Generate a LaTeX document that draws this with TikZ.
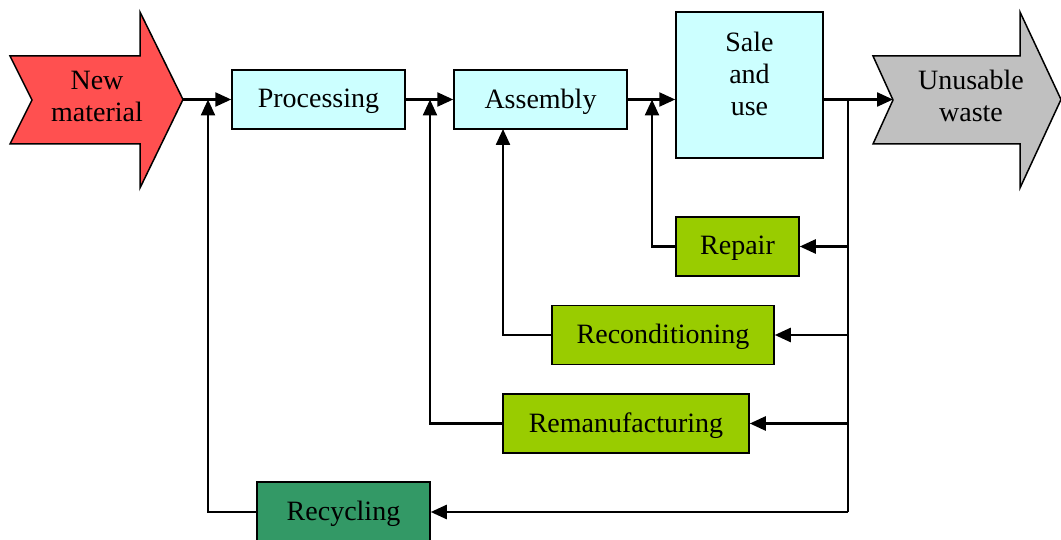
\documentclass[tikz,border=0pt]{standalone}
\usepackage{fontspec}
\setmainfont{Liberation Serif}
\usetikzlibrary{arrows.meta}
\usetikzlibrary{positioning}
\definecolor{newred}{RGB}{255,80,80}
\definecolor{stagecyan}{RGB}{204,255,255}
\definecolor{loopgreen}{RGB}{153,204,0}
\definecolor{recgreen}{RGB}{51,153,102}
\definecolor{wastegray}{RGB}{192,192,192}

\begin{document}
\begin{tikzpicture}[x=0.5pt, y=-0.5pt,
    font=\fontsize{14}{16}\selectfont,
    stagebox/.style={draw, line width=0.75pt, fill=stagecyan, inner sep=0pt, minimum height=29.5pt, text depth=1pt},
    loopbox/.style={draw, line width=0.75pt, fill=loopgreen, inner sep=0pt, minimum height=29.5pt, text depth=1pt},
    bigarrow/.style={draw, line width=0.75pt, line join=miter},
    flow/.style={line width=1.2pt, -{Triangle[length=8pt, width=7pt]}},
    wire/.style={line width=1.2pt}]

\useasboundingbox (0,0) rectangle (1061,540);

%---------------------------------------
% Input and output arrows
%---------------------------------------
\draw[bigarrow, fill=newred]
  (10,56) -- (140,56) -- (140,12) -- (183,99.5) -- (140,188) -- (140,144)
  -- (10,144) -- (32,100) -- cycle;
\node[align=center] (newmat) at (97,96) {New\\material};
\coordinate (nmtip) at (183,99.5);

\draw[bigarrow, fill=wastegray]
  (873,56) -- (1020,56) -- (1020,12) -- (1061,99.5) -- (1020,188) -- (1020,144)
  -- (873,144) -- (893,100) -- cycle;
\node[align=center] (waste) at (971,96) {Unusable\\waste};
\coordinate (wnotch) at (893,99.5);

%---------------------------------------
% Main chain
%---------------------------------------
\node[stagebox, minimum width=86.5pt] (proc) at (318.5,99.5) {Processing};
\node[stagebox, minimum width=86.5pt] (asm)  at (540.5,99.5) {Assembly};
\node[stagebox, minimum width=73.5pt, minimum height=73pt] (sale) at (749.5,85) {};
\node[align=center] (saletext) at (749.5,74) {Sale\\and\\use};

%---------------------------------------
% Recovery loops
%---------------------------------------
\node[loopbox, minimum width=61.5pt] (repair) at (737.5,246.5) {Repair};
\node[loopbox, minimum width=111pt]  (recond) at (663,335)     {Reconditioning};
\node[loopbox, minimum width=123pt]  (reman)  at (626,423.5)   {Remanufacturing};
\node[loopbox, fill=recgreen, minimum width=86.5pt, minimum height=30pt] (recyc) at (343.5,512) {Recycling};

% Junctions
\coordinate (jproc) at (208,99.5);
\coordinate (jasm)  at (430,99.5);
\coordinate (jsale) at (652,99.5);
\coordinate (jout)  at (848,99.5);
\coordinate (jbot)  at (848,512);
\coordinate (asmin) at (503,129);

% Forward flow
\draw[flow] (nmtip) -- (proc.west);
\draw[flow] (proc.east) -- (asm.west);
\draw[flow] (asm.east) -- (asm.east -| sale.west);
\draw[flow] (wnotch -| sale.east) -- (wnotch);

% Return flow
\draw[wire] (jout) -- (jbot);
\draw[flow] (jout |- repair.east) -- (repair.east);
\draw[flow] (jout |- recond.east) -- (recond.east);
\draw[flow] (jout |- reman.east)  -- (reman.east);
\draw[flow] (jbot) -- (recyc.east);

\draw[flow] (repair.west) -| (jsale);
\draw[flow] (recond.west) -| (asmin);
\draw[flow] (reman.west)  -| (jasm);
\draw[flow] (recyc.west)  -| (jproc);

\end{tikzpicture}
\end{document}
